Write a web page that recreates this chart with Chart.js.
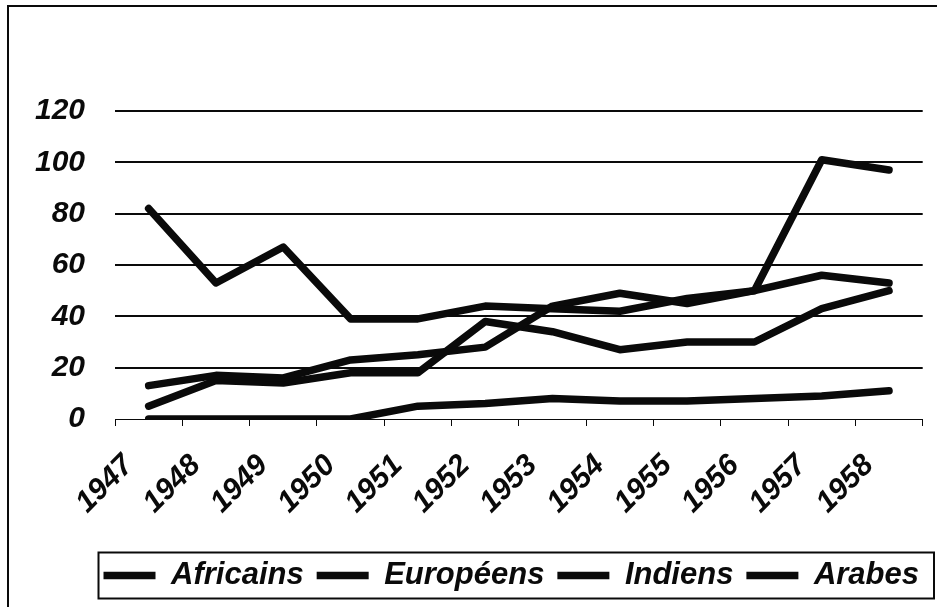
<!DOCTYPE html>
<html>
<head>
<meta charset="utf-8">
<script src="https://cdn.jsdelivr.net/npm/chart.js@4.4.1/dist/chart.umd.min.js"></script>
<style>
  html, body { margin: 0; padding: 0; background: #fff; }
  #wrap { width: 937px; height: 607px; position: relative; }
</style>
</head>
<body>
<div id="wrap"><canvas id="chart"></canvas></div>
<script>
// values
const years = ['1947', '1948', '1949', '1950', '1951', '1952', '1953', '1954', '1955', '1956', '1957', '1958'];
const africains = [82, 53, 67, 39, 39, 44, 43, 42, 47, 50, 101, 97];
const europeens = [13, 17, 16, 23, 25, 28, 44, 49, 45, 50, 56, 53];
const indiens = [5, 15, 14, 18, 18, 38, 34, 27, 30, 30, 43, 50];
const arabes = [0, 0, 0, 0, 5, 6, 8, 7, 7, 8, 9, 11];
const seriesNames = ['Africains', 'Européens', 'Indiens', 'Arabes'];
const yTicks = [0, 20, 40, 60, 80, 100, 120];

const ink = '#0a0a0a';
const family = '"Liberation Sans", Arial, sans-serif';
const tickFont = { family: family, size: 30, weight: 'bold', style: 'italic' };
const legendFont = { family: family, size: 31, weight: 'bold', style: 'italic' };

function line(label, data) {
  return {
    label: label,
    data: data,
    borderColor: ink,
    backgroundColor: ink,
    borderWidth: 7.5,
    borderCapStyle: 'round',
    borderJoinStyle: 'round',
    pointRadius: 0,
    tension: 0
  };
}

// outer frame (left + top edges visible) and the box round the legend
const framePlugin = {
  id: 'frame',
  afterLayout(chart) {
    // legend sits a little right of centre in the original
    chart.legend.left += 7;
    chart.legend.right += 7;
  },
  afterDraw(chart) {
    const c = chart.ctx;
    c.save();
    c.strokeStyle = ink;
    c.lineWidth = 2;
    c.beginPath();
    c.moveTo(8, 607);
    c.lineTo(8, 6);
    c.lineTo(937, 6);
    c.stroke();

    const boxes = chart.legend.legendHitBoxes;
    if (boxes && boxes.length) {
      const last = boxes[boxes.length - 1];
      const left = boxes[0].left - 5;
      const right = last.left + last.width + 15;
      const mid = boxes[0].top + boxes[0].height / 2;
      c.lineWidth = 2;
      c.strokeRect(left, mid - 23, right - left, 46);
    }
    c.restore();
  }
};

new Chart(document.getElementById('chart'), {
  type: 'line',
  data: {
    labels: years,
    datasets: [
      line(seriesNames[0], africains),
      line(seriesNames[1], europeens),
      line(seriesNames[2], indiens),
      line(seriesNames[3], arabes)
    ]
  },
  options: {
    responsive: true,
    maintainAspectRatio: false,
    animation: false,
    layout: { padding: { top: 111, right: 12, bottom: 6, left: 0 } },
    plugins: {
      tooltip: { enabled: false },
      legend: {
        position: 'bottom',
        align: 'end',
        labels: {
          color: ink,
          font: legendFont,
          usePointStyle: true,
          pointStyle: 'line',
          pointStyleWidth: 52,
          boxHeight: 7,
          padding: 13
        }
      }
    },
    scales: {
      x: {
        offset: true,
        grid: {
          offset: true,
          drawOnChartArea: false,
          drawTicks: true,
          tickLength: 7,
          color: ink,
          lineWidth: 1
        },
        border: { display: true, color: ink, width: 1 },
        ticks: {
          color: ink,
          font: tickFont,
          minRotation: 45,
          maxRotation: 45,
          autoSkip: false,
          padding: 22,
          labelOffset: -20
        },
        afterFit(scale) { scale.height = 128; }
      },
      y: {
        min: 0,
        max: 120,
        afterBuildTicks(scale) { scale.ticks = yTicks.map(v => ({ value: v })); },
        grid: {
          color: ink,
          lineWidth: ctx => (ctx.tick && ctx.tick.value === 0 ? 0 : 2),
          drawTicks: false
        },
        border: { display: false },
        ticks: {
          color: ink,
          font: tickFont,
          padding: 30
        },
        afterFit(scale) { scale.width = 115; }
      }
    }
  },
  plugins: [framePlugin]
});
</script>
</body>
</html>
